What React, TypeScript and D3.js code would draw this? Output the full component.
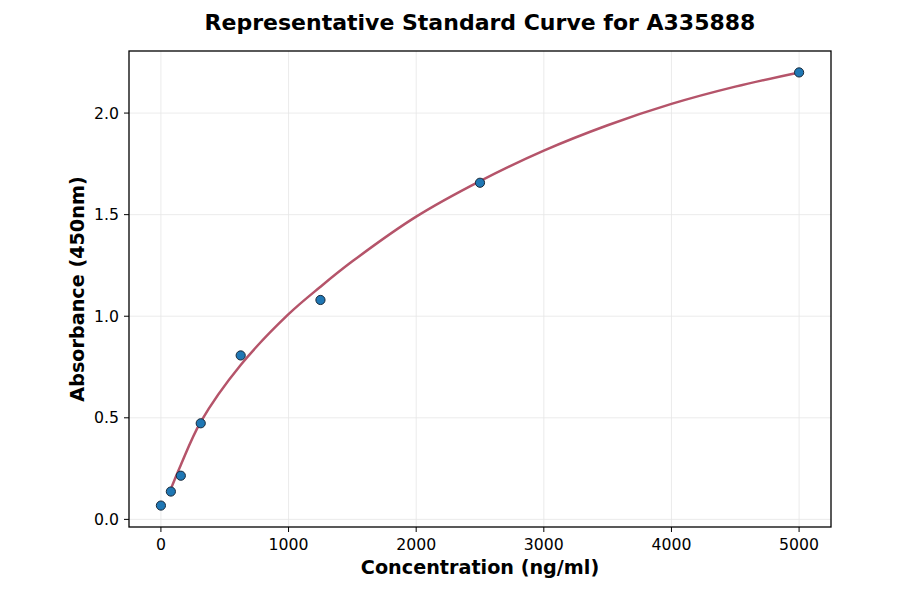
import React from "react";
import * as d3 from "d3";

const concentrations = [0, 78, 156, 312, 625, 1250, 2500, 5000];
const absorbances = [0.068, 0.137, 0.215, 0.473, 0.807, 1.08, 1.657, 2.2];

const curveX = [78, 156, 312, 625, 1000, 1250, 1500, 2000, 2500, 3000, 3500, 4000, 4500, 5000];
const curveY = [0.15, 0.268, 0.48, 0.76, 1.01, 1.145, 1.27, 1.49, 1.665, 1.815, 1.94, 2.045, 2.13, 2.2];

const xTicks = [0, 1000, 2000, 3000, 4000, 5000];
const yTicks = [0.0, 0.5, 1.0, 1.5, 2.0];

const W = 900, H = 594;
const L = 129, R = 831, T = 51, B = 527;

export default function App() {
  const x = d3.scaleLinear().domain([-250, 5250]).range([L, R]);
  const y = d3.scaleLinear().domain([-0.0375, 2.3055]).range([B, T]);
  const line = d3
    .line<number>()
    .x((_, i) => x(curveX[i]))
    .y((d) => y(d))
    .curve(d3.curveCatmullRom.alpha(0.5));
  const font = "DejaVu Sans, sans-serif";
  return (
    <svg width={W} height={H} style={{ position: "absolute", left: 0, top: 0 }} fontFamily={font}>
      <rect width={W} height={H} fill="#fff" />
      {xTicks.map((t) => (
        <line key={"gx" + t} x1={x(t)} x2={x(t)} y1={T} y2={B} stroke="#e6e6e6" strokeWidth={0.8} />
      ))}
      {yTicks.map((t) => (
        <line key={"gy" + t} x1={L} x2={R} y1={y(t)} y2={y(t)} stroke="#e6e6e6" strokeWidth={0.8} />
      ))}
      <path d={line(curveY) || ""} fill="none" stroke="#b5546a" strokeWidth={2.5} />
      {concentrations.map((c, i) => (
        <circle key={"p" + i} cx={x(c)} cy={y(absorbances[i])} r={4.6} fill="#1f77b4" stroke="#1a2a3a" strokeWidth={1} />
      ))}
      <rect x={L} y={T} width={R - L} height={B - T} fill="none" stroke="#000" strokeWidth={1.3} />
      {xTicks.map((t) => (
        <g key={"xt" + t}>
          <line x1={x(t)} x2={x(t)} y1={B} y2={B + 5} stroke="#000" strokeWidth={1} />
          <text x={x(t)} y={B + 23} textAnchor="middle" fontSize={15.7} fill="#000">{t}</text>
        </g>
      ))}
      {yTicks.map((t) => (
        <g key={"yt" + t}>
          <line x1={L - 5} x2={L} y1={y(t)} y2={y(t)} stroke="#000" strokeWidth={1} />
          <text x={L - 10} y={y(t) + 5.5} textAnchor="end" fontSize={15.7} fill="#000">{t.toFixed(1)}</text>
        </g>
      ))}
      <text x={(L + R) / 2} y={30} textAnchor="middle" fontSize={22} fontWeight="bold" fill="#000">
        Representative Standard Curve for A335888
      </text>
      <text x={(L + R) / 2} y={574} textAnchor="middle" fontSize={19.2} fontWeight="bold" fill="#000">
        Concentration (ng/ml)
      </text>
      <text
        transform={`translate(84, ${(T + B) / 2}) rotate(-90)`}
        textAnchor="middle"
        fontSize={19.2}
        fontWeight="bold"
        fill="#000"
      >
        Absorbance (450nm)
      </text>
    </svg>
  );
}
